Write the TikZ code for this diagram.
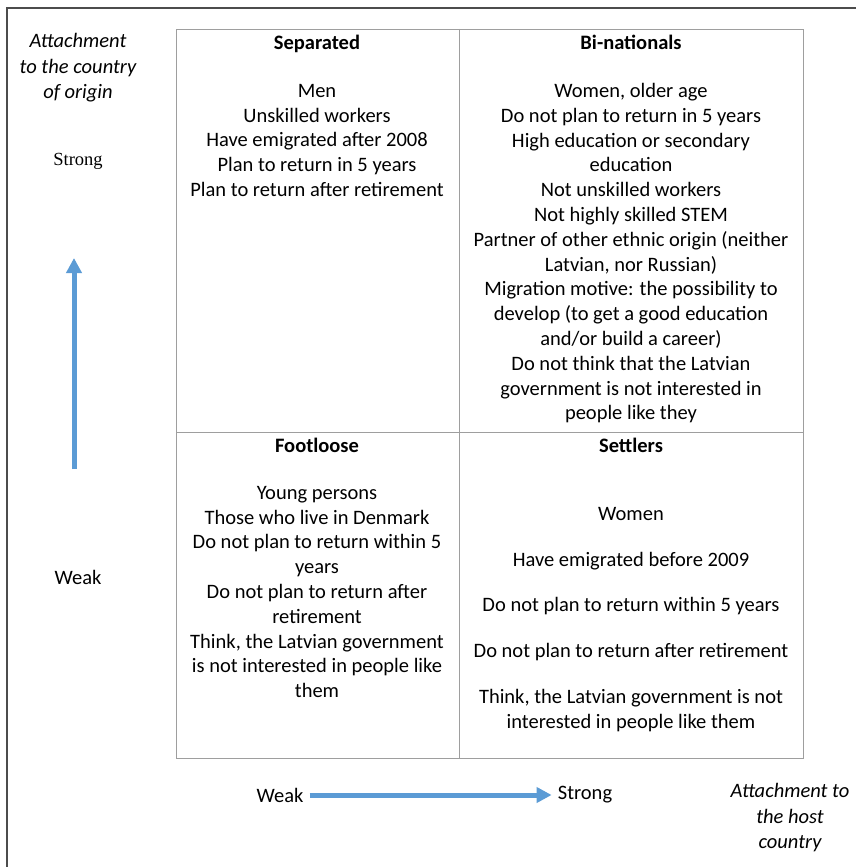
\documentclass[tikz,border=0pt]{standalone}
\usepackage{fontspec}
\setmainfont{Carlito}
\newfontfamily\timesfont{Liberation Serif}
\usetikzlibrary{arrows.meta}
\usetikzlibrary{positioning}
\definecolor{axisblue}{HTML}{5B9BD5}

\begin{document}
\begin{tikzpicture}[x=1pt, y=-1pt,
            cell_text/.style={anchor=north, align=center, inner sep=0pt, font=\fontsize{20.5}{24.8}\selectfont},
            axis_label/.style={align=center, inner sep=0pt, font=\fontsize{20.5}{25.5}\selectfont},
            grid_line/.style={draw=black!38, line width=0.8pt},
            frame_line/.style={draw=black!70, line width=1.2pt},
            axis_arrow/.style={-{Triangle[length=15pt, width=15pt]}, line width=5pt, axisblue}
        ]
        \useasboundingbox (0,0) rectangle (856,867);

        % Outer frame (only top and left edges visible)
        \draw[frame_line] (856,8) -- (7,8) -- (7,867);

        % Table grid
        \draw[grid_line] (176,29) rectangle (803,758);
        \draw[grid_line] (459,29) -- (459,758);
        \draw[grid_line] (176,432) -- (803,432);

        % Cells
        \node[cell_text] (separated) at (317,35) {\textbf{Separated}\\[23pt]
            Men\\
            Unskilled workers\\
            Have emigrated after 2008\\
            Plan to return in 5 years\\
            Plan to return after retirement};
        \node[cell_text] (binationals) at (631,35) {\textbf{Bi-nationals}\\[23pt]
            Women, older age\\
            Do not plan to return in 5 years\\
            High education or secondary\\
            education\\
            Not unskilled workers\\
            Not highly skilled STEM\\
            Partner of other ethnic origin (neither\\
            Latvian, nor Russian)\\
            Migration motive: the possibility to\\
            develop (to get a good education\\
            and/or build a career)\\
            Do not think that the Latvian\\
            government is not interested in\\
            people like they};
        \node[cell_text] (footloose) at (317,438) {\textbf{Footloose}\\[22pt]
            Young persons\\
            Those who live in Denmark\\
            Do not plan to return within 5\\
            years\\
            Do not plan to return after\\
            retirement\\
            Think, the Latvian government\\
            is not interested in people like\\
            them};
        \node[cell_text] (settlers) at (631,438) {\textbf{Settlers}\\[43pt]
            Women\\[21pt]
            Have emigrated before 2009\\[21pt]
            Do not plan to return within 5 years\\[21pt]
            Do not plan to return after retirement\\[21pt]
            Think, the Latvian government is not\\
            interested in people like them};

        % Vertical axis (country of origin)
        \node[axis_label, font=\fontsize{20.5}{25.5}\selectfont\itshape] (origin_label) at (78,68) {Attachment\\to the country\\of origin};
        \node[axis_label, font=\fontsize{18.5}{20}\timesfont] (origin_strong) at (78,161) {Strong};
        \node[axis_label] (origin_weak) at (78,577) {Weak};
        \coordinate (origin_tail) at (74,469);
        \coordinate (origin_head) at (74,258);
        \draw[axis_arrow] (origin_tail) -- (origin_head);

        % Horizontal axis (host country)
        \node[axis_label] (host_weak) at (280,795) {Weak};
        \node[axis_label] (host_strong) at (585,795) {Strong};
        \node[axis_label, font=\fontsize{20.5}{25.5}\selectfont\itshape] (host_label) at (790,818) {Attachment to\\the host\\country};
        \draw[axis_arrow, shorten <=6pt, shorten >=6pt] (host_weak.east) -- (host_strong.west);

    \end{tikzpicture}
\end{document}
